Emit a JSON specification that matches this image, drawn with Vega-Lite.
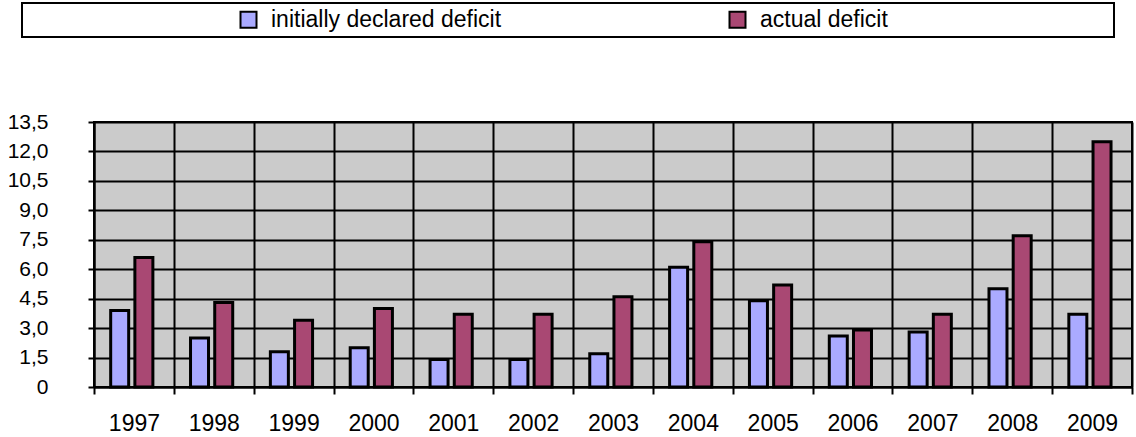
{
  "$schema": "https://vega.github.io/schema/vega-lite/v6.json",
  "autosize": {"type": "none"},
  "padding": {"left": 94, "top": 122, "right": 4, "bottom": 50},
  "width": 1038,
  "height": 265,
  "background": "white",
  "config": {
    "font": "Liberation Sans",
    "view": {"fill": "#cbcbcb", "stroke": "black", "strokeWidth": 2},
    "legend": {"strokeWidth": 2}
  },
  "data": {
    "values": [
      {"year": "1997", "series": "initially declared deficit", "value": 3.9},
      {"year": "1997", "series": "actual deficit", "value": 6.6},
      {"year": "1998", "series": "initially declared deficit", "value": 2.5},
      {"year": "1998", "series": "actual deficit", "value": 4.3},
      {"year": "1999", "series": "initially declared deficit", "value": 1.8},
      {"year": "1999", "series": "actual deficit", "value": 3.4},
      {"year": "2000", "series": "initially declared deficit", "value": 2.0},
      {"year": "2000", "series": "actual deficit", "value": 4.0},
      {"year": "2001", "series": "initially declared deficit", "value": 1.4},
      {"year": "2001", "series": "actual deficit", "value": 3.7},
      {"year": "2002", "series": "initially declared deficit", "value": 1.4},
      {"year": "2002", "series": "actual deficit", "value": 3.7},
      {"year": "2003", "series": "initially declared deficit", "value": 1.7},
      {"year": "2003", "series": "actual deficit", "value": 4.6},
      {"year": "2004", "series": "initially declared deficit", "value": 6.1},
      {"year": "2004", "series": "actual deficit", "value": 7.4},
      {"year": "2005", "series": "initially declared deficit", "value": 4.4},
      {"year": "2005", "series": "actual deficit", "value": 5.2},
      {"year": "2006", "series": "initially declared deficit", "value": 2.6},
      {"year": "2006", "series": "actual deficit", "value": 2.9},
      {"year": "2007", "series": "initially declared deficit", "value": 2.8},
      {"year": "2007", "series": "actual deficit", "value": 3.7},
      {"year": "2008", "series": "initially declared deficit", "value": 5.0},
      {"year": "2008", "series": "actual deficit", "value": 7.7},
      {"year": "2009", "series": "initially declared deficit", "value": 3.7},
      {"year": "2009", "series": "actual deficit", "value": 12.5}
    ]
  },
  "mark": {"type": "bar", "stroke": "black", "strokeWidth": 3},
  "encoding": {
    "x": {
      "field": "year",
      "type": "nominal",
      "scale": {"paddingInner": 0, "paddingOuter": 0},
      "axis": {
        "title": null,
        "labelAngle": 0,
        "labelFontSize": 23,
        "labelColor": "black",
        "labelPadding": 18,
        "tickBand": "extent",
        "tickSize": 7,
        "tickWidth": 2,
        "tickColor": "black",
        "domainColor": "black",
        "domainWidth": 2,
        "grid": true,
        "gridColor": "black",
        "gridWidth": 2,
        "gridOpacity": 1
      }
    },
    "xOffset": {
      "field": "series",
      "type": "nominal",
      "sort": ["initially declared deficit", "actual deficit"],
      "scale": {"paddingInner": 0.256, "paddingOuter": 0.778, "align": 0.443}
    },
    "y": {
      "field": "value",
      "type": "quantitative",
      "scale": {"domain": [0, 13.5], "nice": false, "zero": true},
      "axis": {
        "title": null,
        "values": [0, 1.5, 3, 4.5, 6, 7.5, 9, 10.5, 12, 13.5],
        "labelExpr": "datum.value == 0 ? '0' : replace(format(datum.value, '.1f'), '.', ',')",
        "labelFontSize": 21,
        "labelColor": "black",
        "labelPadding": 40,
        "tickSize": 6,
        "tickWidth": 2,
        "tickColor": "black",
        "domainColor": "black",
        "domainWidth": 2,
        "grid": true,
        "gridColor": "black",
        "gridWidth": 2,
        "gridOpacity": 1
      }
    },
    "color": {
      "field": "series",
      "type": "nominal",
      "scale": {
        "domain": ["initially declared deficit", "actual deficit"],
        "range": ["#aaaaff", "#a94873"]
      },
      "legend": {
        "orient": "none",
        "legendX": -72,
        "legendY": -119,
        "direction": "horizontal",
        "columns": 2,
        "title": "xxxxxxxxxxxxxxxxxx",
        "titleColor": "white",
        "titleOrient": "left",
        "titleFontSize": 23,
        "titleFontWeight": "normal",
        "titlePadding": 3,
        "titleLimit": 1000,
        "padding": 5,
        "strokeColor": "black",
        "fillColor": "white",
        "columnPadding": 223,
        "symbolType": "square",
        "symbolSize": 256,
        "symbolStrokeColor": "black",
        "symbolStrokeWidth": 2,
        "symbolOpacity": 1,
        "labelFontSize": 23,
        "labelColor": "black",
        "labelOffset": 11,
        "labelLimit": 2000,
        "labelExpr": "datum.label == 'actual deficit' ? datum.label + '\u2800\u2800\u2800\u2800\u2800\u2800\u2800\u2800\u2800\u2800\u2800\u2800\u2800' : datum.label"
      }
    }
  }
}
